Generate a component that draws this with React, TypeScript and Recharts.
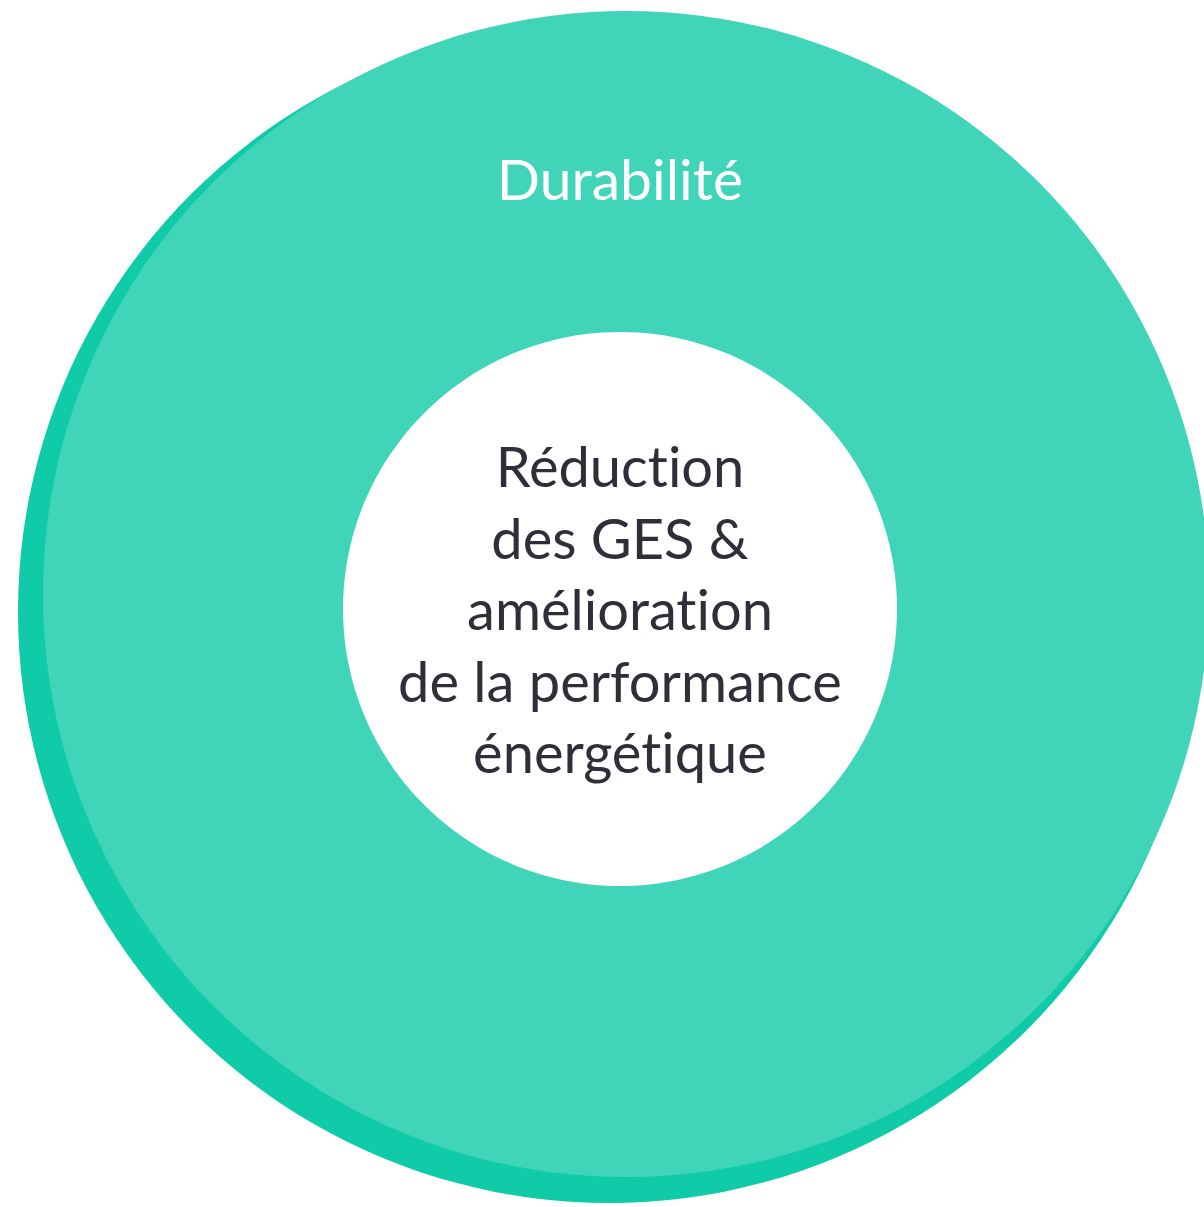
import React from "react";
import { PieChart, Pie, Cell, Label } from "recharts";

const outerRing = [{ name: "Durabilité", value: 1 }];
const innerCore = [{ name: "Réduction des GES & amélioration de la performance énergétique", value: 1 }];
const titleLabel = "Durabilité";
const centerLines = ["Réduction", "des GES &", "amélioration", "de la performance", "énergétique"];

const TEAL = "#40D5B8";
const SHADOW = "#10CBA7";
const FONT = "Lato, 'Open Sans', sans-serif";
const textStyle = { fontVariantLigatures: "none" as const, fontFeatureSettings: "'liga' 0, 'clig' 0" };

const TitleText = (props: any) => {
  const vb = props.viewBox || {};
  const cx = vb.cx ?? 626;
  const cy = vb.cy ?? 594;
  return (
    <text x={cx - 6} y={cy - 394} textAnchor="middle" fill="#ffffff" fontFamily={FONT} fontSize={57} style={textStyle}>
      {titleLabel}
    </text>
  );
};

const CenterText = (props: any) => {
  const vb = props.viewBox || {};
  const cx = vb.cx ?? 620;
  const cy = vb.cy ?? 609;
  return (
    <g>
      {centerLines.map((line, i) => (
        <text key={i} x={cx} y={cy - 122 + i * 71.5} textAnchor="middle" fill="#2f2f3a" fontFamily={FONT} fontSize={56} style={textStyle}>
          {line}
        </text>
      ))}
    </g>
  );
};

export default function App() {
  return (
    <div style={{ position: "absolute", left: 0, top: 0, width: 1204, height: 1207, background: "#fff" }}>
      <PieChart width={1204} height={1207} margin={{ top: 0, right: 0, bottom: 0, left: 0 }}>
        <Pie data={outerRing} dataKey="value" cx={609} cy={612} outerRadius={591} innerRadius={0} stroke="none" isAnimationActive={false}>
          <Cell fill={SHADOW} />
        </Pie>
        <Pie data={outerRing} dataKey="value" cx={626} cy={594} outerRadius={583} innerRadius={0} stroke="none" isAnimationActive={false}>
          <Cell fill={TEAL} />
          <Label position="center" content={TitleText} />
        </Pie>
        <Pie data={innerCore} dataKey="value" cx={620} cy={609} outerRadius={277} innerRadius={0} stroke="none" isAnimationActive={false}>
          <Cell fill="#ffffff" />
          <Label position="center" content={CenterText} />
        </Pie>
      </PieChart>
    </div>
  );
}
